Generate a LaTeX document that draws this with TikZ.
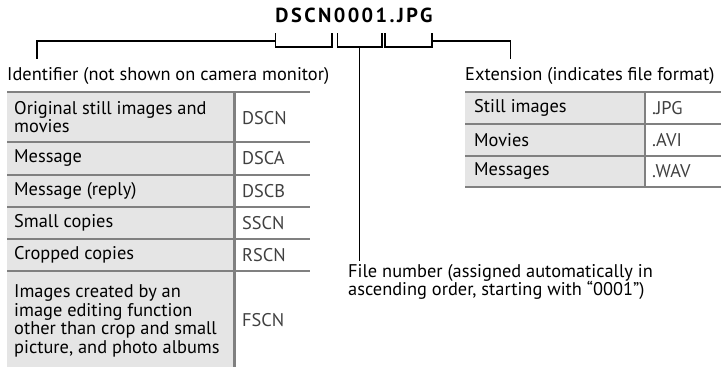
\documentclass[tikz,border=0pt]{standalone}
\usepackage{fontspec}
\setmainfont{PT Sans}
\newlength\idw
\begin{document}
\settowidth\idw{\fontsize{10pt}{12pt}\selectfont Identifier (not shown on camera monitor)}%
\pgfmathsetmacro\fs{10*322/\idw}%
\begin{tikzpicture}[x=1pt,y=-1pt]
\tikzset{
  txt/.style={font=\fontsize{\fs pt}{18.5pt}\selectfont, inner sep=0pt, text=black, align=left},
  code/.style={txt, text=black!75},
  grid/.style={draw=black!50, line width=2.6pt},
  cellfill/.style={fill=black!10, draw=none},
  conn/.style={draw=black, line width=1.8pt},
}
\useasboundingbox (0,0) rectangle (721,367);
% title
\node[inner sep=0pt] (title) at (354,15.5) {\resizebox{157pt}{!}{\bfseries\addfontfeature{LetterSpace=12}DSCN0001.JPG}};
% brackets
\coordinate (b1l) at (275.5,33); \coordinate (b1r) at (332,33);
\coordinate (b2l) at (337.5,33); \coordinate (b2r) at (382,33);
\coordinate (b3l) at (385,33); \coordinate (b3r) at (432,33);
\draw[conn] (b1l) -- ++(0,14) -| (b1r);
\draw[conn] (b2l) -- ++(0,14) -| (b2r);
\draw[conn] (b3l) -- ++(0,14) -| (b3r);
\coordinate (b2m) at (359.5,47);
% labels
\node[txt, anchor=west] (ident) at (7,76) {Identifier (not shown on camera monitor)};
\node[txt, anchor=west] (ext) at (465,76) {Extension (indicates file format)};
\node[txt, anchor=north west] (filenum) at (348,264) {File number (assigned automatically in\\ascending order, starting with “0001”)};
\coordinate (lt) at (37,59);
\coordinate (rt) at (510.5,59);
\draw[conn] (b1l |- 0,41) -| (lt);
\draw[conn] (b3r |- 0,41) -| (rt);
\draw[conn] (b2m) -- (b2m |- 0,261);
% left table
\fill[cellfill] (7,92) rectangle (234.5,367);
\foreach \yy in {92,142,175,207,239,271}{\draw[grid] (7,\yy) -- (310,\yy);}
\draw[grid] (234.5,92) -- (234.5,367);
\node[txt, anchor=west] (l1) at (14,117) {Original still images and\\movies};
\node[code, anchor=west] (c1) at (242,118) {DSCN};
\node[txt, anchor=west] (l2) at (14,158.5) {Message};
\node[code, anchor=west] (c2) at (242,158.5) {DSCA};
\node[txt, anchor=west] (l3) at (14,191) {Message (reply)};
\node[code, anchor=west] (c3) at (242,191) {DSCB};
\node[txt, anchor=west] (l4) at (14,223) {Small copies};
\node[code, anchor=west] (c4) at (242,223) {SSCN};
\node[txt, anchor=west] (l5) at (14,255) {Cropped copies};
\node[code, anchor=west] (c5) at (242,255) {RSCN};
\node[txt, anchor=west] (l6) at (14,321) {Images created by an\\image editing function\\other than crop and small\\picture, and photo albums};
\node[code, anchor=west] (c6) at (242,320) {FSCN};
% right table
\fill[cellfill] (465,92) rectangle (645,187);
\foreach \yy in {92,124,156,187}{\draw[grid] (465,\yy) -- (721,\yy);}
\draw[grid] (645,92) -- (645,187);
\node[txt, anchor=west] (r1) at (474,108) {Still images};
\node[code, anchor=west] (e1) at (652,108) {.JPG};
\node[txt, anchor=west] (r2) at (474,140) {Movies};
\node[code, anchor=west] (e2) at (652,140) {.AVI};
\node[txt, anchor=west] (r3) at (474,171.5) {Messages};
\node[code, anchor=west] (e3) at (652,171.5) {.WAV};
\end{tikzpicture}
\end{document}
